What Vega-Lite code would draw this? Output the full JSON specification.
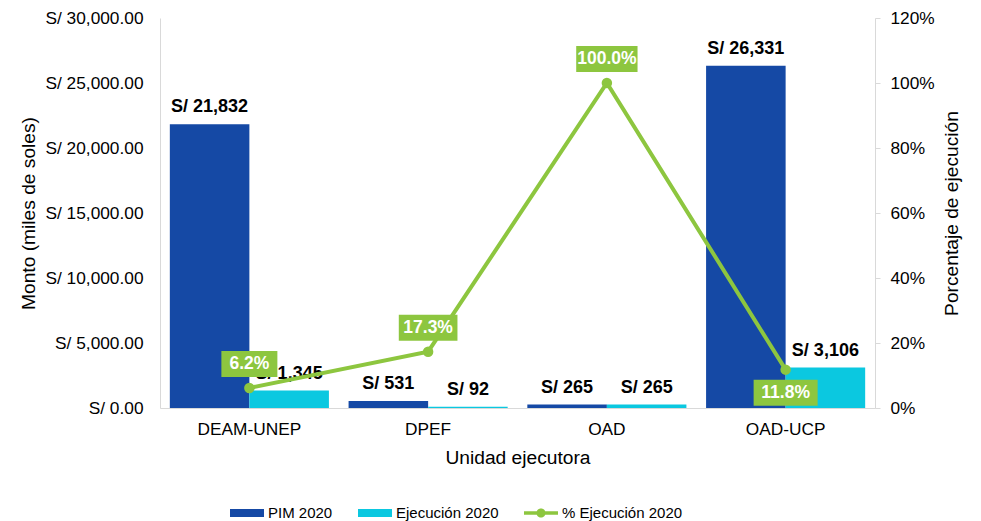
{
  "$schema": "https://vega.github.io/schema/vega-lite/v6.json",
  "width": 715,
  "height": 390,
  "autosize": {"type": "none"},
  "padding": {"left": 160, "top": 18, "right": 106, "bottom": 113},
  "config": {
    "font": "Liberation Sans",
    "view": {"stroke": null},
    "axis": {
      "labelFont": "Liberation Sans",
      "titleFont": "Liberation Sans",
      "labelColor": "#000000",
      "titleColor": "#000000",
      "labelFontSize": 17.3,
      "titleFontSize": 19.2,
      "titleFontWeight": "normal",
      "grid": false,
      "domainColor": "#d9d9d9",
      "tickColor": "#d9d9d9"
    },
    "legend": {"labelFont": "Liberation Sans", "labelFontSize": 15, "labelColor": "#000000"}
  },
  "datasets": {
    "montos": [
      {"unidad": "DEAM-UNEP", "serie": "PIM 2020", "monto": 21832},
      {"unidad": "DEAM-UNEP", "serie": "Ejecución 2020", "monto": 1345},
      {"unidad": "DPEF", "serie": "PIM 2020", "monto": 531},
      {"unidad": "DPEF", "serie": "Ejecución 2020", "monto": 92},
      {"unidad": "OAD", "serie": "PIM 2020", "monto": 265},
      {"unidad": "OAD", "serie": "Ejecución 2020", "monto": 265},
      {"unidad": "OAD-UCP", "serie": "PIM 2020", "monto": 26331},
      {"unidad": "OAD-UCP", "serie": "Ejecución 2020", "monto": 3106}
    ],
    "ejec": [
      {"unidad": "DEAM-UNEP", "pct": 0.0616},
      {"unidad": "DPEF", "pct": 0.1733},
      {"unidad": "OAD", "pct": 1.0},
      {"unidad": "OAD-UCP", "pct": 0.118}
    ]
  },
  "encoding": {
    "x": {
      "field": "unidad",
      "type": "nominal",
      "sort": ["DEAM-UNEP", "DPEF", "OAD", "OAD-UCP"],
      "scale": {"paddingInner": 0.11, "paddingOuter": 0.055},
      "axis": {"title": "Unidad ejecutora", "labelAngle": 0, "ticks": false, "labelPadding": 12, "titlePadding": 11}
    }
  },
  "layer": [
    {
      "data": {"name": "montos"},
      "encoding": {
        "xOffset": {"field": "serie", "type": "nominal", "sort": ["PIM 2020", "Ejecución 2020"], "scale": {"paddingInner": 0, "paddingOuter": 0}},
        "y": {
          "field": "monto",
          "type": "quantitative",
          "scale": {"domain": [0, 30000]},
          "axis": {
            "title": "Monto (miles de soles)",
            "values": [0, 5000, 10000, 15000, 20000, 25000, 30000],
            "labelExpr": "'S/ ' + format(datum.value, ',.2f')",
            "ticks": false,
            "labelPadding": 17,
            "titlePadding": 6
          }
        }
      },
      "layer": [
        {
          "mark": {"type": "bar"},
          "encoding": {
            "color": {
              "field": "serie",
              "type": "nominal",
              "scale": {"domain": ["PIM 2020", "Ejecución 2020", "% Ejecución 2020"], "range": ["#1549a5", "#0bc8e0", "#8dc63f"]},
              "legend": {
                "title": null,
                "orient": "none",
                "direction": "horizontal",
                "legendX": 70,
                "legendY": 478,
                "columnPadding": 25,
                "symbolSize": 1156,
                "labelOffset": 4,
                "encode": {
                  "symbols": {
                    "update": {
                      "shape": {"signal": "datum.value === '% Ejecución 2020' ? 'M-1,-0.11L1,-0.11L1,0.11L-1,0.11Z M0.27,0A0.27,0.27 0 1,1 -0.27,0A0.27,0.27 0 1,1 0.27,0Z' : 'M-1,-0.24L1,-0.24L1,0.24L-1,0.24Z'"},
                      "fill": {"signal": "datum.value === '% Ejecución 2020' ? '#8dc63f' : (datum.value === 'PIM 2020' ? '#1549a5' : '#0bc8e0')"},
                      "strokeWidth": {"value": 0},
                      "opacity": {"value": 1},
                      "size": {"value": 1156}
                    }
                  }
                }
              }
            }
          }
        },
        {
          "transform": [{"calculate": "'S/ ' + format(datum.monto, ',.0f')", "as": "etiqueta"}],
          "mark": {"type": "text", "fontWeight": "bold", "fontSize": 18, "baseline": "bottom", "dy": -8, "color": "#000000"},
          "encoding": {"text": {"field": "etiqueta"}}
        }
      ]
    },
    {
      "data": {"name": "ejec"},
      "encoding": {
        "y": {
          "field": "pct",
          "type": "quantitative",
          "scale": {"domain": [0, 1.2]},
          "axis": {
            "title": "Porcentaje de ejecución",
            "orient": "right",
            "format": ".0%",
            "values": [0, 0.2, 0.4, 0.6, 0.8, 1.0, 1.2],
            "tickSize": 5,
            "labelPadding": 10,
            "titlePadding": 27,
            "titleAngle": -90
          }
        }
      },
      "layer": [
        {
          "mark": {"type": "line", "strokeWidth": 4, "point": {"filled": true, "size": 110, "opacity": 1}},
          "encoding": {"color": {"datum": "% Ejecución 2020"}}
        },
        {
          "transform": [{"filter": "datum.unidad !== 'OAD-UCP'"}],
          "mark": {"type": "tick", "color": "#8dc63f", "thickness": 26, "yOffset": -24, "opacity": 1},
          "encoding": {"size": {"field": "unidad", "type": "ordinal", "scale": {"domain": ["DEAM-UNEP", "DPEF", "OAD", "OAD-UCP"], "range": [56, 64, 72, 61]}, "legend": null}}
        },
        {
          "transform": [{"filter": "datum.unidad === 'OAD-UCP'"}],
          "mark": {"type": "tick", "color": "#8dc63f", "thickness": 26, "yOffset": 23, "opacity": 1},
          "encoding": {"size": {"field": "unidad", "type": "ordinal", "scale": {"domain": ["DEAM-UNEP", "DPEF", "OAD", "OAD-UCP"], "range": [56, 64, 72, 61]}, "legend": null}}
        },
        {
          "transform": [{"filter": "datum.unidad !== 'OAD-UCP'"}],
          "mark": {"type": "text", "color": "#ffffff", "fontWeight": "bold", "fontSize": 17.5, "baseline": "middle", "dy": -24},
          "encoding": {"text": {"field": "pct", "type": "quantitative", "format": ".1%"}}
        },
        {
          "transform": [{"filter": "datum.unidad === 'OAD-UCP'"}],
          "mark": {"type": "text", "color": "#ffffff", "fontWeight": "bold", "fontSize": 17.5, "baseline": "middle", "dy": 23},
          "encoding": {"text": {"field": "pct", "type": "quantitative", "format": ".1%"}}
        }
      ]
    }
  ],
  "resolve": {"scale": {"y": "independent"}}
}
